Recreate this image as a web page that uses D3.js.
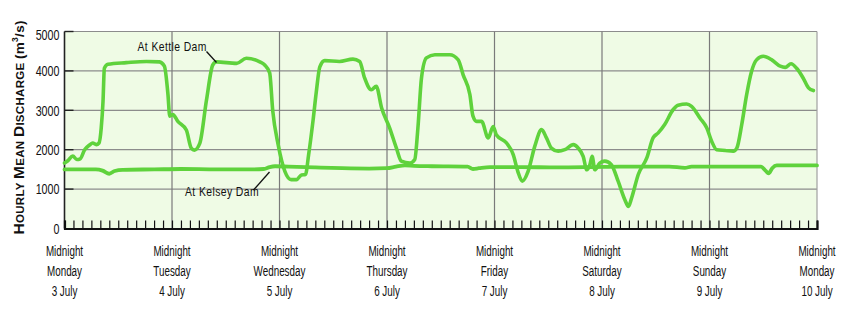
<!DOCTYPE html>
<html>
<head>
<meta charset="utf-8">
<script src="https://cdn.jsdelivr.net/npm/d3@7/dist/d3.min.js"></script>
<style>
  html, body { margin: 0; padding: 0; background: #ffffff; }
  svg { display: block; }
  text { font-family: "Liberation Sans", Arial, sans-serif; fill: #111111; }
</style>
</head>
<body>
<svg id="chart" width="842" height="322"></svg>
<script>
// Hourly mean discharge, 3–10 July; time in hours after midnight Monday 3 July
const kettleHours = [0,0.74,1.85,2.75,3.5,4.5,5.6,6.3,7.1,7.7,8.2,8.6,8.9,9.7,13.8,18.3,21.2,22.3,23.1,23.5,24.2,25.3,27.2,28.3,29.0,30.2,31.7,33.1,33.9,38.4,40.6,43.6,44.7,45.8,46.5,47.7,49.2,50.6,51.8,52.9,53.8,54.5,55.5,56.2,57.0,58.1,61.4,64.4,65.9,67.0,68.5,69.6,70.8,72.6,74.1,75.2,77.1,78.2,78.9,79.7,80.8,82.7,86.0,87.9,89.0,90.5,91.2,92.0,93.1,94.6,95.7,96.4,98.7,100.2,101.2,102.2,103.5,105.0,106.5,107.6,108.7,110.2,111.7,113.6,114.7,115.8,116.6,117.3,117.8,118.4,119.5,120.6,122.1,123.6,125.1,125.9,126.6,128.1,130.0,131.4,132.5,134.0,135.9,137.0,138.9,140.0,141.9,143.4,144.5,145.6,147.5,149.3,150.1,151.2,152.3,153.4,154.5,156.0,157.9,159.8,160.9,162.2,163.5,164.9,166.1,167.2];
const kettleFlow = [1660,1720,1840,1750,1770,2000,2120,2170,2130,2170,2550,3230,4070,4170,4210,4240,4230,4120,3400,2850,2890,2720,2500,2040,1990,2160,3260,4150,4230,4190,4320,4230,4150,3950,2980,2130,1450,1240,1240,1360,1370,1870,2750,3450,4100,4260,4240,4300,4240,3820,3520,3610,3060,2550,2040,1710,1660,1750,2550,3820,4330,4410,4410,4280,3900,3400,2850,2720,2720,2300,2590,2380,2170,1870,1450,1200,1450,2090,2510,2300,2040,1960,2000,2130,2040,1830,1490,1620,1830,1490,1660,1710,1620,1200,730,560,770,1370,1790,2300,2420,2640,3020,3130,3160,3100,2800,2550,2210,2000,1980,1960,2040,2640,3400,3990,4280,4370,4280,4120,4090,4180,4060,3820,3570,3500];

const kelseyHours = [0,7,8.5,10,11.2,13,20,26,34,42,44.5,45.8,47,50,56,62,68,72,74,76,78,82,90,91.2,92.5,95,102,110,118,124,135,138.5,140,148,155.5,156.5,157.2,158,159,168];
const kelseyFlow  = [1500,1500,1470,1390,1460,1490,1500,1510,1500,1500,1510,1560,1580,1570,1550,1530,1520,1530,1570,1600,1590,1580,1570,1510,1530,1560,1560,1550,1560,1570,1570,1540,1570,1570,1570,1470,1400,1530,1600,1600];

const dayNames = ["Monday","Tuesday","Wednesday","Thursday","Friday","Saturday","Sunday","Monday"];
const dayDates = ["3 July","4 July","5 July","6 July","7 July","8 July","9 July","10 July"];
const flowTicks = [0,1000,2000,3000,4000,5000];

const svg = d3.select("#chart");
const plotL = 64.5, plotR = 817, plotT = 31.5, plotB = 228.5;
const narrow = 0.68;   // horizontal squeeze for the condensed lettering

const x = d3.scaleLinear().domain([0, 168]).range([plotL, plotR]);
const y = d3.scaleLinear().domain([0, 5000]).range([plotB, plotT]);

const lineColor = "#5fd23c";
const gridColor = "#8c8c8c";

// plot background
svg.append("rect")
  .attr("x", plotL).attr("y", plotT)
  .attr("width", plotR - plotL).attr("height", plotB - plotT)
  .attr("fill", "#effbe5");

// horizontal grid
svg.append("g").selectAll("line").data(flowTicks.filter(d => d > 0)).join("line")
  .attr("x1", plotL).attr("x2", plotR)
  .attr("y1", d => y(d)).attr("y2", d => y(d))
  .attr("stroke", gridColor).attr("stroke-width", 1.2);

// vertical grid at each midnight
const midnights = d3.range(0, 169, 24);
svg.append("g").selectAll("line").data(midnights.filter(d => d > 0)).join("line")
  .attr("x1", d => x(d)).attr("x2", d => x(d))
  .attr("y1", plotT).attr("y2", plotB)
  .attr("stroke", d => d === 168 ? "#a0a0a0" : "#7a7a7a").attr("stroke-width", 1.2);

// left ticks (inward, dark)
svg.append("g").selectAll("line").data(flowTicks.filter(d => d > 0)).join("line")
  .attr("x1", plotL).attr("x2", plotL + 9)
  .attr("y1", d => y(d)).attr("y2", d => y(d))
  .attr("stroke", "#222").attr("stroke-width", 1.4);

// left frame
svg.append("line")
  .attr("x1", plotL).attr("x2", plotL).attr("y1", plotT).attr("y2", plotB)
  .attr("stroke", "#222").attr("stroke-width", 1.6);

// y tick labels
svg.append("g").selectAll("text").data(flowTicks).join("text")
  .attr("transform", d => `translate(${plotL - 5},${y(d) + (d === 5000 ? 3 : 0)}) scale(0.74,1)`)
  .attr("dy", "0.36em")
  .attr("text-anchor", "end")
  .attr("font-size", 14.5)
  .text(d => d);

// bottom axis: two-hourly ticks pointing up
const xAxis = d3.axisBottom(x).tickValues(d3.range(0, 169, 2)).tickSize(-8).tickFormat("");
const gx = svg.append("g").attr("transform", `translate(0,${plotB})`).call(xAxis);
gx.select(".domain").attr("stroke", "#111").attr("stroke-width", 2.2);
gx.selectAll(".tick line").attr("stroke", "#111").attr("stroke-width", 1.2);

// day labels
const lbl = svg.append("g").selectAll("g").data(midnights).join("g")
  .attr("transform", d => `translate(${x(d)},0) scale(${narrow},1)`);
lbl.append("text").attr("y", 256).attr("text-anchor", "middle").attr("font-size", 14.5).text("Midnight");
lbl.append("text").attr("y", 276).attr("text-anchor", "middle").attr("font-size", 14.5).text((d, i) => dayNames[i]);
lbl.append("text").attr("y", 296.5).attr("text-anchor", "middle").attr("font-size", 14.5).text((d, i) => dayDates[i]);

// y axis title (small capitals)
const title = svg.append("text")
  .attr("transform", `translate(23.5,127.5) rotate(-90)`)
  .attr("text-anchor", "middle")
  .attr("font-weight", "bold")
  .attr("textLength", 214)
  .attr("lengthAdjust", "spacing");
[["H",15.5],["OURLY ",11.5],["M",15.5],["EAN ",11.5],["D",15.5],["ISCHARGE ",11.5],["(m",13.5]].forEach(([t, s]) => {
  title.append("tspan").attr("font-size", s).text(t);
});
title.append("tspan").attr("font-size", 8.5).attr("dy", -5.5).text("3");
title.append("tspan").attr("font-size", 13.5).attr("dy", 5.5).text("/s)");

// series
const line = d3.line().x(d => x(d[0])).y(d => y(d[1])).curve(d3.curveMonotoneX);
const kelsey = kelseyHours.map((h, i) => [h, kelseyFlow[i]]);
const kettle = kettleHours.map((h, i) => [h, kettleFlow[i]]);

svg.append("path").datum(kelsey).attr("d", line)
  .attr("fill", "none").attr("stroke", lineColor).attr("stroke-width", 3.8)
  .attr("stroke-linejoin", "round").attr("stroke-linecap", "round");
svg.append("path").datum(kettle).attr("d", line)
  .attr("fill", "none").attr("stroke", lineColor).attr("stroke-width", 3.6)
  .attr("stroke-linejoin", "round").attr("stroke-linecap", "round");

// series annotations
svg.append("text").attr("transform", `translate(137.5,50.5) scale(0.8,1)`)
  .attr("font-size", 13).attr("letter-spacing", 0.5).text("At Kettle Dam");
svg.append("line").attr("x1", 206.5).attr("y1", 51.5).attr("x2", 216.5).attr("y2", 62.5)
  .attr("stroke", "#111").attr("stroke-width", 1.3);
svg.append("text").attr("transform", `translate(185,196) scale(0.8,1)`)
  .attr("font-size", 13).attr("letter-spacing", 0.5).text("At Kelsey Dam");
svg.append("line").attr("x1", 253.5).attr("y1", 190).attr("x2", 269.5).attr("y2", 172)
  .attr("stroke", "#111").attr("stroke-width", 1.3);
</script>
</body>
</html>
